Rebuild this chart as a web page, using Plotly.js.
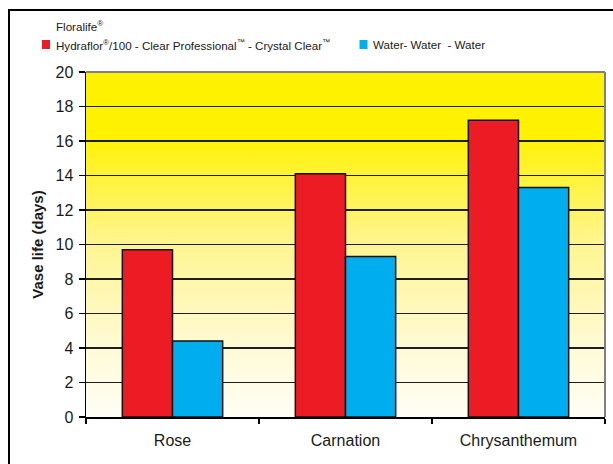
<!DOCTYPE html>
<html>
<head>
<meta charset="utf-8">
<script src="https://cdn.plot.ly/plotly-3.0.1.min.js"></script>
<style>
  html, body { margin: 0; padding: 0; background: #fff; overflow: hidden; }
  #wrap { position: relative; width: 613px; height: 464px; overflow: hidden; }
  #chart { position: absolute; left: 0; top: 0; width: 613px; height: 464px; }
  #frame { position: absolute; left: 8px; top: 9px; width: 700px; height: 600px;
           border: 2px solid #000; pointer-events: none; }
</style>
</head>
<body>
<div id="wrap">
  <div id="chart"></div>
  <div id="frame"></div>
</div>
<script>
// ---- data ----
const categories = ['Rose', 'Carnation', 'Chrysanthemum'];
const floralifeValues = [9.7, 14.1, 17.2];
const waterValues = [4.4, 9.3, 13.3];
const seriesNames = [
  'Floralife<sup>®</sup>',
  'Hydraflor<sup>®</sup>/100 - Clear Professional<sup>™</sup> - Crystal Clear<sup>™</sup>',
  'Water- Water\u00a0 - Water'
];
const yTickVals = [0, 2, 4, 6, 8, 10, 12, 14, 16, 18, 20];
const yTitle = 'Vase life (days)';

// ---- layout geometry (pixels) ----
const W = 613, H = 464;
const M = { l: 86, r: 8, t: 72, b: 47 };
const pw = W - M.l - M.r, ph = H - M.t - M.b;
const px = x => (x - M.l) / pw;
const py = y => (H - M.b - y) / ph;

const RED = '#ED1C24', BLUE = '#00AEEF';
const FONT = 'Arial, "Liberation Sans", Helvetica, sans-serif';
const TXT = '#1a1a1a';
const LEG = 11.6;

const gradSvg = '<svg xmlns="http://www.w3.org/2000/svg" width="10" height="100" preserveAspectRatio="none">' +
  '<defs><linearGradient id="g" x1="0" y1="0" x2="0" y2="1">' +
  '<stop offset="0" stop-color="#FFF200"/><stop offset="0.18" stop-color="#FFF200"/>' +
  '<stop offset="0.5" stop-color="#FFF592"/><stop offset="0.8" stop-color="#FFFAD6"/>' +
  '<stop offset="1" stop-color="#FFFEF5"/></linearGradient></defs>' +
  '<rect width="10" height="100" fill="url(#g)"/></svg>';

const traces = [
  {
    type: 'bar', x: categories, y: floralifeValues, name: seriesNames[1],
    marker: { color: RED, line: { color: '#111', width: 1.5 } }
  },
  {
    type: 'bar', x: categories, y: waterValues, name: seriesNames[2],
    marker: { color: BLUE, line: { color: '#111', width: 1.5 } }
  }
];

const layout = {
  width: W, height: H,
  margin: M,
  paper_bgcolor: '#fff',
  plot_bgcolor: 'rgba(0,0,0,0)',
  showlegend: false,
  barmode: 'group',
  bargap: 0.42,
  bargroupgap: 0,
  font: { family: FONT, size: 16, color: TXT },
  xaxis: {
    type: 'category',
    showline: true, linecolor: '#000', linewidth: 1.5,
    ticks: 'outside', tickson: 'boundaries', ticklen: 5, tickcolor: '#000', tickwidth: 1.5,
    showgrid: false, zeroline: false,
    ticklabelstandoff: 8,
    tickfont: { size: 16, color: TXT }
  },
  yaxis: {
    range: [0, 20],
    tickvals: yTickVals,
    showline: true, linecolor: '#000', linewidth: 1.5,
    ticks: 'outside', ticklen: 6, tickcolor: '#000', tickwidth: 1.5,
    showgrid: true, gridcolor: '#1e1e1e', gridwidth: 1.5,
    zeroline: false,
    ticklabelstandoff: 2,
    tickfont: { size: 16, color: TXT },
    title: { text: '<b>' + yTitle + '</b>', font: { size: 15, color: TXT }, standoff: 8 }
  },
  images: [{
    source: 'data:image/svg+xml;base64,' + btoa(gradSvg),
    xref: 'paper', yref: 'paper', x: 0, y: 1, sizex: 1, sizey: 1,
    xanchor: 'left', yanchor: 'top', sizing: 'stretch', layer: 'below'
  }],
  shapes: [
    { type: 'line', xref: 'paper', yref: 'paper', x0: 0, x1: 1, y0: 1, y1: 1,
      line: { color: '#808080', width: 2 }, layer: 'above' },
    { type: 'line', xref: 'paper', yref: 'paper', x0: 1, x1: 1, y0: 0, y1: 1,
      line: { color: '#808080', width: 2 }, layer: 'above' },
    { type: 'rect', xref: 'paper', yref: 'paper', x0: px(42), x1: px(50), y0: py(49), y1: py(40),
      fillcolor: RED, line: { width: 0 } },
    { type: 'rect', xref: 'paper', yref: 'paper', x0: px(359.5), x1: px(367.5), y0: py(49), y1: py(40),
      fillcolor: BLUE, line: { width: 0 } }
  ],
  annotations: [
    { text: seriesNames[0], xref: 'paper', yref: 'paper', x: px(54), y: py(26),
      xanchor: 'left', yanchor: 'middle', showarrow: false, font: { size: LEG, color: TXT } },
    { text: seriesNames[1], xref: 'paper', yref: 'paper', x: px(54), y: py(44.5),
      xanchor: 'left', yanchor: 'middle', showarrow: false, font: { size: LEG, color: TXT } },
    { text: seriesNames[2], xref: 'paper', yref: 'paper', x: px(371), y: py(44.5),
      xanchor: 'left', yanchor: 'middle', showarrow: false, font: { size: LEG, color: TXT } }
  ]
};

Plotly.newPlot('chart', traces, layout, { staticPlot: true, displayModeBar: false });
</script>
</body>
</html>
